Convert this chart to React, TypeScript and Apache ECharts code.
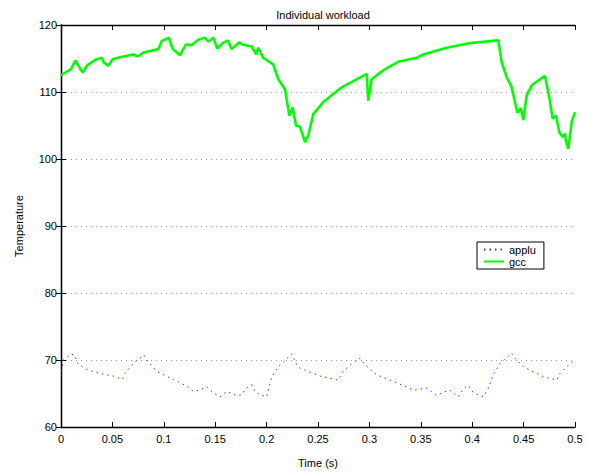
import React, { useEffect, useRef } from "react";
import * as echarts from "echarts";

const xTicks = [0, 0.05, 0.1, 0.15, 0.2, 0.25, 0.3, 0.35, 0.4, 0.45, 0.5];
const yTicks = [60, 70, 80, 90, 100, 110, 120];

const gccX = [0.0, 0.0097, 0.0139, 0.0211, 0.0256, 0.0347, 0.0396, 0.0418, 0.046, 0.0503, 0.0574, 0.0703, 0.0746, 0.0801, 0.0947, 0.098, 0.105, 0.1087, 0.1158, 0.1216, 0.1271, 0.1336, 0.1401, 0.1433, 0.1482, 0.152, 0.1573, 0.1622, 0.166, 0.1732, 0.1764, 0.1855, 0.1897, 0.1919, 0.1968, 0.2065, 0.2114, 0.2179, 0.2221, 0.2254, 0.2286, 0.2325, 0.2374, 0.2406, 0.2454, 0.2552, 0.2731, 0.2974, 0.2989, 0.3022, 0.3087, 0.3152, 0.3281, 0.346, 0.3524, 0.3752, 0.3979, 0.4254, 0.4287, 0.4336, 0.4384, 0.4439, 0.4472, 0.4497, 0.453, 0.4579, 0.4708, 0.475, 0.4783, 0.4815, 0.4847, 0.488, 0.4903, 0.4912, 0.4935, 0.4968, 0.5];
const gccY = [112.5, 113.4, 114.7, 112.9, 114.0, 114.9, 115.1, 114.4, 113.9, 114.9, 115.2, 115.6, 115.3, 115.9, 116.4, 117.6, 118.1, 116.4, 115.5, 117.1, 117.0, 117.8, 118.1, 117.5, 118.1, 116.5, 117.3, 117.7, 116.4, 117.4, 117.1, 116.8, 115.6, 116.6, 115.1, 114.1, 111.9, 110.4, 106.5, 107.7, 105.0, 104.8, 102.5, 103.5, 106.7, 108.5, 110.7, 112.7, 108.7, 111.9, 112.7, 113.4, 114.5, 115.1, 115.6, 116.6, 117.3, 117.7, 114.4, 112.2, 110.7, 106.9, 107.6, 105.8, 109.5, 111.0, 112.4, 109.2, 106.0, 106.5, 104.0, 103.3, 103.8, 102.6, 101.5, 105.5, 107.0];

const appluX = [0.0003, 0.0022, 0.0104, 0.0136, 0.0168, 0.0266, 0.0379, 0.0509, 0.06, 0.0623, 0.0703, 0.0807, 0.0834, 0.0931, 0.1092, 0.1223, 0.1287, 0.1352, 0.1417, 0.1482, 0.1547, 0.1612, 0.1709, 0.1758, 0.18, 0.1855, 0.1887, 0.1936, 0.2001, 0.205, 0.2114, 0.2244, 0.2293, 0.2325, 0.2519, 0.2697, 0.2746, 0.2828, 0.2909, 0.2957, 0.3071, 0.32, 0.3363, 0.3427, 0.3557, 0.3655, 0.3719, 0.3784, 0.3865, 0.3914, 0.3962, 0.4011, 0.4108, 0.4157, 0.4205, 0.427, 0.4384, 0.4416, 0.4497, 0.4692, 0.4822, 0.4854, 0.4919, 0.4984];
const appluY = [68.3, 70.0, 70.9, 70.6, 69.3, 68.5, 68.0, 67.6, 67.1, 68.0, 69.5, 70.75, 70.0, 68.3, 67.1, 66.1, 65.3, 65.5, 66.0, 65.1, 64.5, 65.3, 64.7, 64.8, 65.8, 66.3, 65.3, 64.8, 64.5, 67.5, 69.0, 70.9, 69.3, 68.8, 67.6, 67.0, 68.3, 69.5, 70.25, 69.3, 67.8, 67.0, 66.0, 65.5, 65.8, 64.7, 65.2, 65.5, 64.5, 65.7, 66.2, 65.1, 64.5, 65.8, 67.8, 69.5, 71.0, 70.25, 69.0, 67.5, 67.0, 68.0, 69.0, 69.8];

const FONT = "'Liberation Sans', Arial, sans-serif";

export default function App() {
  const ref = useRef<HTMLDivElement>(null);
  useEffect(() => {
    if (!ref.current) return;
    const chart = echarts.init(ref.current, undefined, { renderer: "svg" });
    const tickStyle = { show: true, inside: true, length: 5, lineStyle: { color: "#000", width: 1 } };
    const axisLineStyle = { show: true, lineStyle: { color: "#000", width: 1.3 } };
    chart.setOption({
      animation: false,
      backgroundColor: "#fff",
      textStyle: { fontFamily: FONT },
      title: {
        text: "Individual workload",
        left: 318,
        textAlign: "center",
        top: 4,
        textStyle: { fontSize: 11, fontWeight: "normal", color: "#000", fontFamily: FONT },
      },
      grid: { left: 61, right: 14, top: 25, bottom: 42 },
      legend: {
        left: 477,
        top: 242,
        orient: "vertical",
        backgroundColor: "#fff",
        borderColor: "#000",
        borderWidth: 1,
        padding: [2, 8, 2, 6],
        itemGap: 1,
        itemWidth: 20,
        itemHeight: 10,
        itemStyle: { opacity: 0, borderWidth: 0, color: "transparent" },
        textStyle: { fontSize: 11, color: "#000", fontFamily: FONT },
        data: ["applu", "gcc"],
      },
      xAxis: [
        {
          type: "value",
          min: 0,
          max: 0.5,
          interval: 0.05,
          name: "Time (s)",
          nameLocation: "middle",
          nameGap: 30,
          nameTextStyle: { fontSize: 11, color: "#000", fontFamily: FONT },
          axisLine: axisLineStyle,
          axisTick: tickStyle,
          axisLabel: { fontSize: 11, color: "#000", margin: 6, fontFamily: FONT, formatter: (v: number) => String(Math.round(v * 100) / 100) },
          splitLine: { show: false },
        },
        {
          type: "value",
          position: "top",
          min: 0,
          max: 0.5,
          interval: 0.05,
          axisLine: axisLineStyle,
          axisTick: tickStyle,
          axisLabel: { show: false },
          splitLine: { show: false },
        },
      ],
      yAxis: [
        {
          type: "value",
          min: 60,
          max: 120,
          interval: 10,
          name: "Temperature",
          nameLocation: "middle",
          nameGap: 37,
          nameTextStyle: { fontSize: 11, color: "#000", fontFamily: FONT },
          axisLine: axisLineStyle,
          axisTick: tickStyle,
          axisLabel: { fontSize: 11, color: "#000", margin: 4, fontFamily: FONT },
          splitLine: { show: true, lineStyle: { color: "#999", type: [1, 4], width: 1 } },
        },
        {
          type: "value",
          position: "right",
          min: 60,
          max: 120,
          interval: 10,
          axisLine: axisLineStyle,
          axisTick: tickStyle,
          axisLabel: { show: false },
          splitLine: { show: false },
        },
      ],
      series: [
        {
          name: "applu",
          type: "line",
          symbol: "none",
          data: appluX.map((x, i) => [x, appluY[i]]),
          lineStyle: { color: "#3333ff", width: 1, type: [1.5, 4] },
          itemStyle: { color: "#3333ff" },
        },
        {
          name: "gcc",
          type: "line",
          symbol: "none",
          data: gccX.map((x, i) => [x, gccY[i]]),
          lineStyle: { color: "#00ff00", width: 2.6 },
          itemStyle: { color: "#00ff00" },
        },
      ],
    });
    return () => chart.dispose();
  }, []);
  return <div ref={ref} style={{ width: 589, height: 473, position: "absolute", left: 0, top: 0 }} />;
}
